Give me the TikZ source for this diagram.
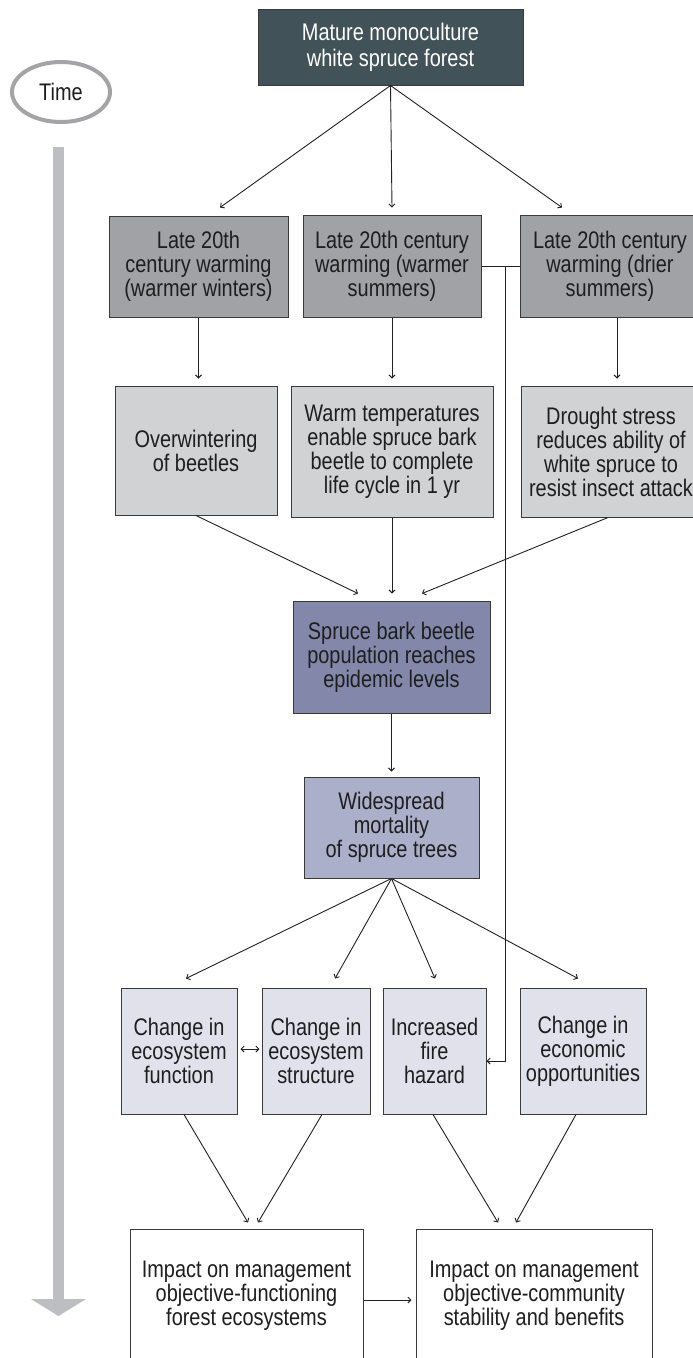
\documentclass[tikz,border=0pt]{standalone}
\usepackage{fontspec}
\setmainfont{Liberation Sans}[FakeStretch=0.83]
\usetikzlibrary{arrows.meta,calc,shapes.geometric}
\definecolor{topfill}{HTML}{415259}
\definecolor{rtwo}{HTML}{A0A2A6}
\definecolor{rthree}{HTML}{D1D2D4}
\definecolor{dfill}{HTML}{8388AA}
\definecolor{efill}{HTML}{ABAFC9}
\definecolor{ffill}{HTML}{E1E1EC}
\definecolor{linec}{HTML}{222222}
\definecolor{boxline}{HTML}{3A3A3A}
\definecolor{timegray}{HTML}{BDBEC2}
\definecolor{ellgray}{HTML}{A4A4A6}
\definecolor{txt}{HTML}{1E1E1E}
\begin{document}
\begin{tikzpicture}[x=1pt,y=-1pt,
  box/.style={draw=boxline,line width=1pt,inner sep=0pt,align=center,text=txt,
    font=\fontsize{24}{24}\selectfont},
  arr/.style={draw=linec,line width=0.9pt,-{Straight Barb[length=3pt,width=6pt]}},
  plainline/.style={draw=linec,line width=0.9pt},
  dblarr/.style={draw=linec,line width=0.9pt,{Straight Barb[length=3pt,width=6pt]}-{Straight Barb[length=3pt,width=6pt]}}]
\useasboundingbox (0,0) rectangle (693,1358);
\clip (0,0) rectangle (693,1358);
\fill[white] (0,0) rectangle (693,1358);

% time indicator
\node[ellipse,draw=ellgray,line width=4pt,minimum width=98pt,minimum height=60pt,inner sep=0pt,
  font=\fontsize{24}{24}\selectfont,text=txt] (time) at (61,92) {Time};
\fill[timegray] (53,147) rectangle (64,1300);
\fill[timegray] (31,1299) -- (86,1299) -- (58.5,1316) -- cycle;

% nodes
\node[box,fill=topfill,draw=boxline,text=white,minimum width=265pt,minimum height=76pt,
  font=\fontsize{24}{26}\selectfont] (top) at (390.5,47) {Mature monoculture\\white spruce forest};

\node[box,fill=rtwo,minimum width=179pt,minimum height=101pt] (b1) at (198.5,266.5) {Late 20th\\century warming\\(warmer winters)};
\node[box,fill=rtwo,minimum width=178pt,minimum height=102pt] (b2) at (392,266) {Late 20th century\\warming (warmer\\summers)};
\node[box,fill=rtwo,minimum width=180pt,minimum height=102pt] (b3) at (610,266) {Late 20th century\\warming (drier\\summers)};

\node[box,fill=rthree,minimum width=162pt,minimum height=129pt] (c1) at (196,450.5) {Overwintering\\of beetles};
\node[box,fill=rthree,minimum width=202pt,minimum height=131pt] (c2) at (392,451.5) {Warm temperatures\\enable spruce bark\\beetle to complete\\life cycle in 1 yr};
\node[box,fill=rthree,minimum width=180pt,minimum height=131pt] (c3) at (611,451.5) {Drought stress\\reduces ability of\\white spruce to\\resist insect attack};

\node[box,fill=dfill,minimum width=197pt,minimum height=112pt] (d) at (391.5,657) {Spruce bark beetle\\population reaches\\epidemic levels};
\node[box,fill=efill,minimum width=175pt,minimum height=101pt] (e) at (391.5,827.5) {Widespread\\mortality\\of spruce trees};

\node[box,fill=ffill,minimum width=116pt,minimum height=126pt] (f1) at (179,1051) {Change in\\ecosystem\\function};
\node[box,fill=ffill,minimum width=108pt,minimum height=126pt] (f2) at (316,1051) {Change in\\ecosystem\\structure};
\node[box,fill=ffill,minimum width=103pt,minimum height=126pt] (f3) at (434.5,1051) {Increased\\fire\\hazard};
\node[box,fill=ffill,minimum width=126pt,minimum height=126pt] (f4) at (583,1051) {Change in\\economic\\opportunities};

\node[box,fill=white,minimum width=233pt,minimum height=134pt] (g1) at (246.5,1296) {Impact on management\\objective-functioning\\forest ecosystems};
\node[box,fill=white,minimum width=236pt,minimum height=134pt] (g2) at (534,1296) {Impact on management\\objective-community\\stability and benefits};

% connectors
\draw[arr] (top.south) -- ($(b1.north)+(21.5,-8)$);
\draw[arr] (top.south) -- ($(b2.north)+(0,-7)$);
\draw[arr] (top.south) -- ($(b3.north)+(-48,-7)$);

\draw[arr,shorten >=7pt] (b1.south) -- (b1.south |- c1.north);
\draw[arr,shorten >=7pt] (b2.south) -- (b2.south |- c2.north);
\draw[arr,shorten >=7pt] ($(b3.south)+(7,0)$) -- ($(b3.south |- c3.north)+(7,0)$);

\draw[arr] (c1.south) -- ($(d.north)+(-33.5,-7)$);
\draw[arr] (c2.south) -- ($(d.north)+(0.5,-7)$);
\draw[arr] ($(c3.south)+(-3,0)$) -- ($(d.north)+(30.5,-7)$);

\draw[arr,shorten >=5pt] (d.south) -- (e.north);

\draw[arr] (e.south) -- ($(f1.north)+(7,-9)$);
\draw[arr] (e.south) -- ($(f2.north)+(19,-9)$);
\draw[arr] (e.south) -- ($(f3.north)+(0.5,-9)$);
\draw[arr] (e.south) -- ($(f4.north)+(-5,-9)$);

\draw[dblarr,shorten <=3pt,shorten >=2pt] ($(f1.east)+(0,-2)$) -- ($(f2.west)+(0,-2)$);

% fire hazard link from warming summers
\draw[plainline] (b2.east) -- (b3.west);
\coordinate (j) at (505,266);
\draw[arr] (j) |- ($(f3.east)+(0,10)$);

\draw[arr] ($(f1.south)+(5,0)$) -- ($(g1.north)+(1.5,-6)$);
\draw[arr] ($(f2.south)+(6,0)$) -- ($(g1.north)+(11.5,-6)$);
\draw[arr] ($(f3.south)+(-1.5,0)$) -- ($(g2.north)+(-36,-6)$);
\draw[arr] ($(f4.south)+(-7,0)$) -- ($(g2.north)+(-18,-6)$);

\draw[arr,shorten >=4pt] ($(g1.east)+(0,4)$) -- ($(g2.west)+(0,4)$);
\end{tikzpicture}
\end{document}
